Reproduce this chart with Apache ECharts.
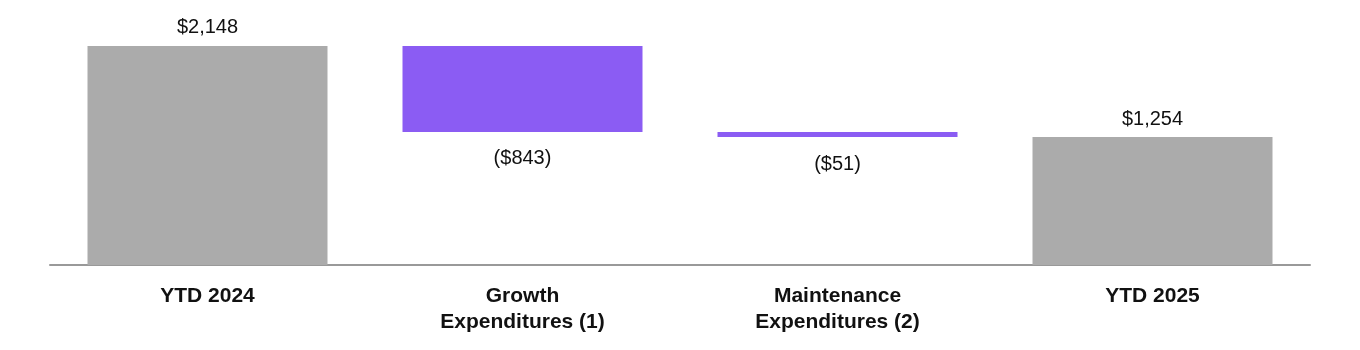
<!DOCTYPE html>
<html>
<head>
<meta charset="utf-8">
<script src="https://cdn.jsdelivr.net/npm/echarts@6/dist/echarts.min.js"></script>
<style>
  html, body { margin: 0; padding: 0; background: #fff; }
  #chart { width: 1360px; height: 350px; }
</style>
</head>
<body>
<div id="chart"></div>
<script>
// Capital expenditure bridge, YTD 2024 to YTD 2025 ($ millions)
const categories = ['YTD 2024', 'Growth\nExpenditures (1)', 'Maintenance\nExpenditures (2)', 'YTD 2025'];
const startValue = 2148;
const changes = [-843, -51];
const endValue = 1254;

// Build floating bases and visible heights for the waterfall
const bases = [0];
const heights = [startValue];
const signed = [startValue];
let running = startValue;
changes.forEach(function (d) {
  const next = running + d;
  bases.push(Math.min(running, next));
  heights.push(Math.abs(d));
  signed.push(d);
  running = next;
});
bases.push(0);
heights.push(endValue);
signed.push(endValue);

const GRAY = '#ababab';
const PURPLE = '#8b5cf3';

function fmt(v) {
  const s = '$' + Math.abs(v).toLocaleString('en-US');
  return v < 0 ? '(' + s + ')' : s;
}

const visible = heights.map(function (h, i) {
  const neg = signed[i] < 0;
  return {
    value: h,
    itemStyle: { color: neg ? PURPLE : GRAY },
    label: {
      show: true,
      position: neg ? 'bottom' : 'top',
      distance: neg ? 17 : 8,
      formatter: function () { return fmt(signed[i]); }
    }
  };
});

const chart = echarts.init(document.getElementById('chart'), null, { renderer: 'canvas' });
chart.setOption({
  animation: false,
  grid: { left: 50, right: 50, top: 10, bottom: 85 },
  xAxis: {
    type: 'category',
    data: categories,
    axisLine: { lineStyle: { color: '#999999', width: 2 } },
    axisTick: { show: false },
    axisLabel: {
      color: '#111111',
      fontFamily: 'Liberation Sans, Arial, sans-serif',
      fontSize: 21,
      fontWeight: 'bold',
      lineHeight: 26,
      margin: 18,
      interval: 0
    }
  },
  yAxis: {
    type: 'value',
    min: 0,
    max: 2500,
    show: false,
    splitLine: { show: false }
  },
  series: [
    {
      type: 'bar',
      stack: 'bridge',
      data: bases,
      barWidth: 240,
      itemStyle: { color: 'transparent' },
      silent: true
    },
    {
      type: 'bar',
      stack: 'bridge',
      data: visible,
      barWidth: 240,
      label: {
        color: '#111111',
        fontFamily: 'Liberation Sans, Arial, sans-serif',
        fontSize: 20
      }
    }
  ]
});
</script>
</body>
</html>
